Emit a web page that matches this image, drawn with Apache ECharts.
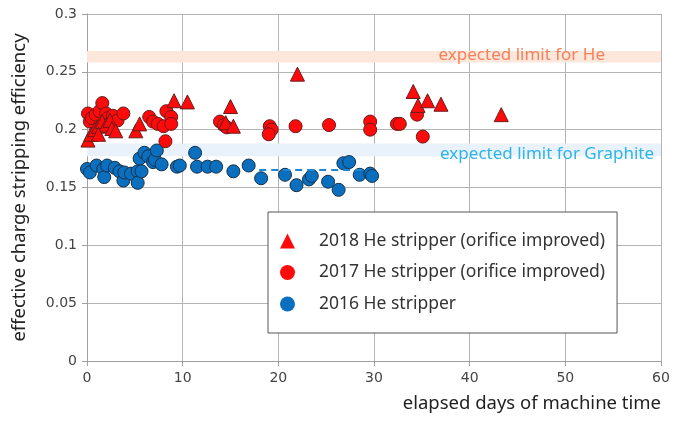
<!DOCTYPE html>
<html>
<head>
<meta charset="utf-8">
<script src="https://cdn.jsdelivr.net/npm/echarts@6/dist/echarts.min.js"></script>
<style>
  html, body { margin: 0; padding: 0; background: #fff; }
  #chart { width: 681px; height: 421px; }
</style>
</head>
<body>
<div id="chart"></div>
<script>
// Stripping efficiency vs elapsed days, [day, efficiency]
const he2018 = [
  [0.1, 0.191], [0.4, 0.196], [0.8, 0.200], [1.2, 0.203], [1.6, 0.207],
  [2.0, 0.204], [2.4, 0.208], [2.6, 0.201], [3.0, 0.199], [1.2, 0.196],
  [5.1, 0.199], [5.5, 0.205], [9.1, 0.225], [10.5, 0.224], [14.5, 0.206],
  [15.0, 0.220], [15.3, 0.203], [22.0, 0.248], [34.1, 0.233], [34.6, 0.221],
  [35.6, 0.225], [37.0, 0.222], [43.3, 0.213]
];
const he2017 = [
  [0.1, 0.214], [0.3, 0.207], [0.5, 0.210], [0.9, 0.213], [1.3, 0.216],
  [1.6, 0.223], [2.0, 0.214], [2.2, 0.210], [2.7, 0.212], [3.2, 0.208],
  [3.8, 0.214], [6.5, 0.211], [6.9, 0.207], [7.4, 0.205], [8.0, 0.203],
  [8.3, 0.216], [8.8, 0.211], [8.8, 0.205], [8.2, 0.190], [13.9, 0.207],
  [14.3, 0.204], [14.6, 0.202], [19.1, 0.203], [19.3, 0.200], [19.0, 0.196],
  [21.8, 0.203], [25.3, 0.204], [29.6, 0.207], [29.6, 0.200], [32.4, 0.205],
  [32.7, 0.205], [34.5, 0.213], [35.1, 0.194]
];
const he2016 = [
  [0.0, 0.166], [0.3, 0.163], [1.0, 0.169], [1.7, 0.166], [1.8, 0.159],
  [2.1, 0.169], [2.9, 0.167], [3.4, 0.164], [3.8, 0.156], [3.9, 0.163],
  [4.6, 0.162], [5.3, 0.164], [5.3, 0.154], [5.5, 0.175], [5.7, 0.164],
  [6.0, 0.180], [6.4, 0.177], [6.9, 0.172], [7.1, 0.174], [7.3, 0.182],
  [7.8, 0.170], [9.4, 0.168], [9.7, 0.169], [11.3, 0.180], [11.5, 0.168],
  [12.6, 0.168], [13.5, 0.168], [15.3, 0.164], [16.9, 0.169], [18.2, 0.158],
  [20.7, 0.161], [21.9, 0.152], [23.2, 0.157], [23.5, 0.160], [25.2, 0.155],
  [26.3, 0.148], [26.8, 0.171], [27.4, 0.172], [28.5, 0.161], [29.6, 0.162],
  [29.8, 0.160]
];
// Expected-limit bands [low, high] and the 2016 average guide [from day, to day, value]
const heLimitBand = [0.258, 0.268];
const graphiteLimitBand = [0.177, 0.188];
const avg2016 = [18, 29, 0.165];

const seriesNames = [
  '2018 He stripper (orifice improved)',
  '2017 He stripper (orifice improved)',
  '2016 He stripper'
];
const xTicks = [0, 10, 20, 30, 40, 50, 60];
const yTicks = [0, 0.05, 0.1, 0.15, 0.2, 0.25, 0.3];

const chart = echarts.init(document.getElementById('chart'), null, { renderer: 'canvas' });

const gridLine = { show: true, lineStyle: { color: '#b4b4b4', width: 1 } };
const tickFont = { color: '#444', fontSize: 14, fontFamily: 'DejaVu Sans' };

chart.setOption({
  animation: false,
  backgroundColor: '#fff',
  grid: { left: 87, right: 20, top: 14, bottom: 60, containLabel: false },
  xAxis: {
    type: 'value', min: xTicks[0], max: xTicks[xTicks.length - 1], interval: 10,
    name: 'elapsed days of machine time', nameLocation: 'end',
    nameGap: 0,
    nameTextStyle: { fontSize: 18.5, color: '#222', fontFamily: 'Noto Sans',
      align: 'right', verticalAlign: 'top', padding: [33, 0, 0, 0] },
    axisLine: { lineStyle: { color: '#a0a0a0' } },
    axisTick: { show: true, length: 5, lineStyle: { color: '#a0a0a0' } },
    axisLabel: Object.assign({ margin: 10 }, tickFont),
    splitLine: gridLine
  },
  yAxis: {
    type: 'value', min: yTicks[0], max: yTicks[yTicks.length - 1], interval: 0.05,
    name: 'effective charge stripping efficiency', nameLocation: 'middle', nameGap: 58,
    nameTextStyle: { fontSize: 18.5, color: '#222', fontFamily: 'Noto Sans' },
    axisLine: { show: true, lineStyle: { color: '#a0a0a0' } },
    axisTick: { show: true, length: 5, lineStyle: { color: '#a0a0a0' } },
    axisLabel: Object.assign({ margin: 10 }, tickFont),
    splitLine: gridLine
  },
  legend: {
    data: seriesNames,
    orient: 'vertical',
    left: 268, top: 212,
    backgroundColor: '#fff',
    borderColor: '#555', borderWidth: 1,
    padding: [20, 12, 20, 12],
    itemWidth: 15, itemHeight: 15, itemGap: 13.5,
    itemStyle: { borderWidth: 0 },
    textStyle: { fontSize: 17.5, color: '#333', fontFamily: 'Noto Sans', padding: [0, 0, 0, 19] }
  },
  series: [
    {
      name: seriesNames[2], type: 'scatter', data: he2016,
      symbol: 'circle', symbolSize: 13, z: 3,
      itemStyle: { color: '#0a6fbf', borderColor: '#16324a', borderWidth: 1, opacity: 1 },
      markArea: {
        silent: true,
        itemStyle: { color: '#e9f2fb' },
        label: { show: true, position: 'insideRight', distance: 7, offset: [0, 4],
          color: '#2db4e8', fontSize: 17, fontFamily: 'Noto Sans' },
        data: [[
          { name: 'expected limit for Graphite', xAxis: xTicks[0], yAxis: graphiteLimitBand[0] },
          { xAxis: xTicks[xTicks.length - 1], yAxis: graphiteLimitBand[1] }
        ]]
      },
      markLine: {
        silent: true, symbol: 'none',
        lineStyle: { color: '#1f86d6', type: [7, 5], width: 2 },
        label: { show: false },
        data: [[
          { coord: [avg2016[0], avg2016[2]] },
          { coord: [avg2016[1], avg2016[2]] }
        ]]
      }
    },
    {
      name: seriesNames[1], type: 'scatter', data: he2017,
      symbol: 'circle', symbolSize: 13, z: 4,
      itemStyle: { color: '#ff0a0a', borderColor: '#6a1a1a', borderWidth: 1, opacity: 1 },
      markArea: {
        silent: true,
        itemStyle: { color: '#fde6da' },
        label: { show: true, position: 'insideRight', distance: 56, offset: [0, -2],
          color: '#f5805c', fontSize: 17, fontFamily: 'Noto Sans' },
        data: [[
          { name: 'expected limit for He', xAxis: xTicks[0], yAxis: heLimitBand[0] },
          { xAxis: xTicks[xTicks.length - 1], yAxis: heLimitBand[1] }
        ]]
      }
    },
    {
      name: seriesNames[0], type: 'scatter', data: he2018,
      symbol: 'triangle', symbolSize: 14, z: 5,
      itemStyle: { color: '#ff0a0a', borderColor: '#6a1a1a', borderWidth: 1, opacity: 1 }
    }
  ]
});
</script>
</body>
</html>
